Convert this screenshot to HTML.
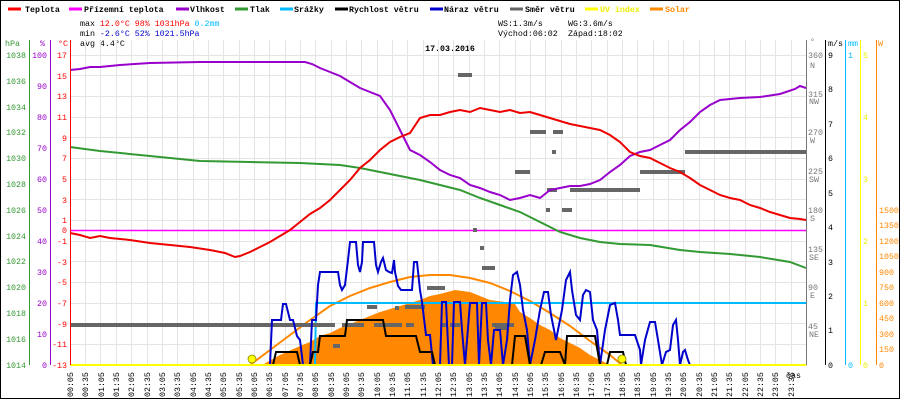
<!DOCTYPE html>
<html><head><meta charset="utf-8"><style>
html,body{margin:0;padding:0;background:#fff}
svg{display:block}
text{font-family:"Liberation Mono",monospace;font-size:8.3px}
</style></head><body>
<svg width="900" height="400" viewBox="0 0 900 400" xmlns="http://www.w3.org/2000/svg">
<rect x="0.5" y="0.5" width="899" height="398" fill="#fff" stroke="#000"/>
<!-- legend -->
<g stroke-width="3">
<line x1="8" y1="9" x2="21" y2="9" stroke="#f00"/>
<line x1="69" y1="9" x2="82" y2="9" stroke="#f0f"/>
<line x1="176" y1="9" x2="189" y2="9" stroke="#90c"/>
<line x1="235" y1="9" x2="248" y2="9" stroke="#393"/>
<line x1="280" y1="9" x2="293" y2="9" stroke="#0bf"/>
<line x1="335" y1="9" x2="348" y2="9" stroke="#000"/>
<line x1="430" y1="9" x2="443" y2="9" stroke="#00c"/>
<line x1="510" y1="9" x2="523" y2="9" stroke="#666"/>
<line x1="585" y1="9" x2="598" y2="9" stroke="#ff0"/>
<line x1="650" y1="9" x2="663" y2="9" stroke="#f80"/>
</g>
<g font-weight="bold" fill="#000">
<text x="25" y="12">Teplota</text><text x="84" y="12">Přízemní teplota</text>
<text x="190" y="12">Vlhkost</text><text x="250" y="12">Tlak</text><text x="294" y="12">Srážky</text>
<text x="349" y="12">Rychlost větru</text><text x="444" y="12">Náraz větru</text>
<text x="525" y="12">Směr větru</text><text x="600" y="12" fill="#ee0">UV index</text><text x="665" y="12" fill="#f80">Solar</text>
</g>
<text x="80" y="26">max <tspan fill="#f00">12.0°C</tspan>  <tspan fill="#f00">98%</tspan>  <tspan fill="#f00">1031hPa</tspan>     <tspan fill="#0bf">0.2mm</tspan></text>
<text x="80" y="36">min <tspan fill="#00c">-2.6°C</tspan>  <tspan fill="#00c">52%</tspan>  <tspan fill="#00c">1021.5hPa</tspan></text>
<text x="80" y="46">avg  4.4°C</text>
<text x="498" y="26">WS:1.3m/s</text><text x="568" y="26">WG:3.6m/s</text>
<text x="498" y="36">Východ:06:02</text><text x="568" y="36">Západ:18:02</text>
<text x="450" y="51" text-anchor="middle" font-weight="bold" font-size="12">17.03.2016</text>
<!-- grid -->
<g stroke="#e4e4e4" stroke-width="1">
<path d="M85.5 40V365M100.5 40V365M116.5 40V365M131.5 40V365M147.5 40V365M162.5 40V365M177.5 40V365M193.5 40V365M208.5 40V365M223.5 40V365M239.5 40V365M254.5 40V365M269.5 40V365M285.5 40V365M300.5 40V365M315.5 40V365M331.5 40V365M346.5 40V365M361.5 40V365M377.5 40V365M392.5 40V365M407.5 40V365M423.5 40V365M438.5 40V365M453.5 40V365M469.5 40V365M484.5 40V365M499.5 40V365M515.5 40V365M530.5 40V365M545.5 40V365M561.5 40V365M576.5 40V365M591.5 40V365M607.5 40V365M622.5 40V365M637.5 40V365M653.5 40V365M668.5 40V365M683.5 40V365M699.5 40V365M714.5 40V365M729.5 40V365M745.5 40V365M760.5 40V365M775.5 40V365M791.5 40V365"/>
<path d="M70 55.5H806M70 75.5H806M70 96.5H806M70 117.5H806M70 137.5H806M70 158.5H806M70 179.5H806M70 199.5H806M70 220.5H806M70 241.5H806M70 261.5H806M70 282.5H806M70 303.5H806M70 323.5H806M70 344.5H806"/>
</g>
<!-- solar -->
<polygon fill="#f80" points="262,365 280,355 300,346 310,342 320,336 330,333 340,328 360,320 380,312 400,306 420,300 430,296 440,294 455,290 470,292 480,296 490,300 505,302 515,304 520,312 530,318 540,325 550,330 560,338 570,343 580,348 590,355 600,360 610,365"/>
<polyline fill="none" stroke="#f80" stroke-width="2" points="250,365 270,350 290,335 310,320 330,306 350,296 370,288 390,282 410,277 430,275 450,275 470,278 490,283 510,291 530,301 550,313 570,326 590,341 610,355 622,365"/>
<!-- magenta, rain -->
<line x1="70" y1="230.5" x2="806" y2="230.5" stroke="#f0f" stroke-width="1.5"/>
<polyline fill="none" stroke="#0bf" stroke-width="2" points="315,365 316,303 806,303"/>
<!-- wind direction -->
<g fill="#666">
<rect x="70" y="323" width="265" height="4"/>
<rect x="342" y="323" width="22" height="4"/><rect x="374" y="323" width="28" height="4"/><rect x="406" y="323" width="8" height="4"/>
<rect x="442" y="323" width="5" height="4"/><rect x="450" y="323" width="10" height="4"/><rect x="492" y="323" width="22" height="4"/>
<rect x="333" y="344" width="7" height="4"/><rect x="367" y="305" width="10" height="4"/><rect x="395" y="306" width="4" height="4"/>
<rect x="405" y="305" width="20" height="4"/><rect x="427" y="286" width="18" height="4"/>
<rect x="458" y="73" width="14" height="4"/><rect x="473" y="228" width="4" height="4"/><rect x="480" y="246" width="4" height="4"/>
<rect x="482" y="266" width="13" height="4"/><rect x="495" y="326" width="13" height="4"/>
<rect x="515" y="170" width="15" height="4"/><rect x="530" y="130" width="16" height="4"/><rect x="553" y="130" width="10" height="4"/>
<rect x="552" y="150" width="4" height="4"/><rect x="547" y="188" width="10" height="4"/><rect x="546" y="208" width="4" height="4"/>
<rect x="562" y="208" width="10" height="4"/><rect x="570" y="188" width="70" height="4"/><rect x="640" y="170" width="45" height="4"/>
<rect x="685" y="150" width="121" height="4"/>
</g>
<!-- gust -->
<polyline fill="none" stroke="#00c" stroke-width="2" points="270,365 272,320 281,320 283,304 286,304 290,320 293,320 297,336 300,340 303,365 310,365 312,320 316,320 318,285 320,272 338,272 340,285 342,290 345,285 348,260 350,242 356,242 358,265 360,272 362,262 363,242 374,242 376,265 378,272 381,262 383,258 386,270 389,272 392,273 394,260 395,272 398,286 401,290 412,290 414,262 417,262 420,290 422,302 426,335 430,335 433,365 440,365 442,302 446,302 449,365 452,365 454,302 460,302 462,330 465,365 470,303 477,303 479,365 482,303 486,303 488,340 491,365 494,330 500,330 503,365 507,340 510,300 513,275 517,272 520,285 523,310 527,330 530,365 535,340 540,310 544,292 548,292 551,315 556,340 562,310 566,280 570,272 572,290 576,315 580,320 583,295 586,290 590,292 593,320 597,330 600,365 605,330 610,305 615,303 618,320 620,335 635,335 640,350 641,365 645,340 650,322 655,322 658,340 662,365 666,352 670,350 673,325 676,320 678,340 680,365 683,352 685,350 688,360 690,365"/>
<!-- wind speed -->
<polyline fill="none" stroke="#000" stroke-width="2" points="70,365 273,365 276,352 297,352 300,365 310,365 313,352 318,352 320,336 345,336 347,320 383,320 386,336 416,336 420,352 432,352 435,365 512,365 515,336 525,336 530,365 541,365 545,352 560,352 565,365 567,336 595,336 600,365 607,365 610,352 623,352 626,365 806,365"/>
<!-- temperature, humidity, pressure -->
<polyline fill="none" stroke="#393" stroke-width="2" points="70,147 100,151 150,156 200,161 250,162 300,163 340,165 360,168 380,172 400,176 420,180 440,185 460,190 480,198 500,205 520,212 540,222 560,232 580,238 600,242 620,244 650,245 680,250 700,252 730,254 760,257 790,262 806,268"/>
<polyline fill="none" stroke="#90c" stroke-width="2" points="70,70 80,69 90,67 100,67 120,65 150,63 200,62 250,62 305,62 312,64 320,68 330,72 340,76 350,82 360,88 370,92 380,96 390,110 400,130 405,140 410,150 420,155 430,162 440,170 450,175 460,178 470,185 480,188 490,192 500,195 510,200 520,198 530,195 540,198 550,190 560,188 570,186 580,186 590,184 600,180 610,172 620,165 630,156 640,152 650,150 660,145 670,140 680,130 690,122 700,112 710,105 720,100 740,98 760,97 780,94 795,89 800,86 806,88"/>
<polyline fill="none" stroke="#e00" stroke-width="2" points="70,233 80,235 90,238 100,236 110,238 130,240 150,243 170,245 190,247 210,250 225,253 235,257 240,256 250,252 260,247 270,242 280,236 290,230 300,222 310,214 320,208 330,200 340,190 350,180 360,168 370,160 380,150 390,142 400,137 410,133 420,118 430,115 440,115 450,112 460,110 470,112 480,108 490,110 500,112 510,110 520,113 530,112 540,115 550,118 560,121 570,124 580,126 590,128 600,130 610,135 620,142 630,152 640,156 650,158 660,163 670,168 680,172 690,178 700,185 710,190 720,195 730,198 740,200 750,205 760,208 770,212 780,215 790,218 800,219 806,220"/>
<line x1="70" y1="365" x2="806" y2="365" stroke="#ff0" stroke-width="2"/>
<circle cx="252" cy="359" r="4" fill="#ff0" stroke="#880" stroke-width="0.8"/>
<circle cx="622" cy="359" r="4" fill="#ff0" stroke="#880" stroke-width="0.8"/>
<!-- left axes -->
<line x1="29.5" y1="40" x2="29.5" y2="365" stroke="#393"/>
<line x1="50.5" y1="40" x2="50.5" y2="365" stroke="#90c"/>
<line x1="70.5" y1="40" x2="70.5" y2="365" stroke="#f00"/>
<text x="5" y="46" fill="#393">hPa</text><text x="40" y="46" fill="#90c">%</text><text x="58" y="46" fill="#f00">°C</text>
<g fill="#393" text-anchor="end">
<text x="26" y="58">1038</text><text x="26" y="84">1036</text><text x="26" y="110">1034</text><text x="26" y="135">1032</text><text x="26" y="161">1030</text><text x="26" y="187">1028</text><text x="26" y="213">1026</text><text x="26" y="239">1024</text><text x="26" y="264">1022</text><text x="26" y="290">1020</text><text x="26" y="316">1018</text><text x="26" y="342">1016</text><text x="26" y="368">1014</text>
</g>
<g fill="#90c" text-anchor="end">
<text x="47" y="58">100</text><text x="47" y="89">90</text><text x="47" y="120">80</text><text x="47" y="151">70</text><text x="47" y="182">60</text><text x="47" y="213">50</text><text x="47" y="244">40</text><text x="47" y="275">30</text><text x="47" y="306">20</text><text x="47" y="337">10</text><text x="47" y="368">0</text>
</g>
<g fill="#f00" text-anchor="end">
<text x="67" y="58">17</text><text x="67" y="79">15</text><text x="67" y="99">13</text><text x="67" y="120">11</text><text x="67" y="141">9</text><text x="67" y="161">7</text><text x="67" y="182">5</text><text x="67" y="203">3</text><text x="67" y="223">1</text><text x="67" y="233">0</text><text x="67" y="244">-1</text><text x="67" y="265">-3</text><text x="67" y="285">-5</text><text x="67" y="306">-7</text><text x="67" y="327">-9</text><text x="67" y="347">-11</text><text x="67" y="368">-13</text>
</g>
<!-- right axes -->
<line x1="806.5" y1="40" x2="806.5" y2="365" stroke="#777"/>
<line x1="825.5" y1="40" x2="825.5" y2="365" stroke="#000"/>
<line x1="845.5" y1="40" x2="845.5" y2="365" stroke="#0bf"/>
<line x1="860.5" y1="40" x2="860.5" y2="365" stroke="#ff0"/>
<line x1="876.5" y1="40" x2="876.5" y2="365" stroke="#f80"/>
<text x="810" y="44" fill="#777">°</text><text x="828" y="46">m/s</text><text x="848" y="46" fill="#0bf">mm</text><text x="878" y="46" fill="#f80">W</text>
<g fill="#777">
<text x="808" y="58">360</text><text x="810" y="68">N</text><text x="808" y="97">315</text><text x="809" y="104">NW</text>
<text x="808" y="135">270</text><text x="810" y="143">W</text><text x="808" y="174">225</text><text x="809" y="182">SW</text>
<text x="808" y="213">180</text><text x="810" y="221">S</text><text x="808" y="252">135</text><text x="809" y="260">SE</text>
<text x="808" y="290">90</text><text x="810" y="298">E</text><text x="808" y="329">45</text><text x="809" y="337">NE</text>
</g>
<g fill="#000">
<text x="828" y="58">9</text><text x="828" y="92">8</text><text x="828" y="127">7</text><text x="828" y="161">6</text><text x="828" y="196">5</text><text x="828" y="230">4</text><text x="828" y="265">3</text><text x="828" y="299">2</text><text x="828" y="333">1</text><text x="828" y="368">0</text>
</g>
<text x="848" y="58" fill="#0bf">1</text><text x="848" y="368" fill="#0bf">0</text>
<g fill="#ee0">
<text x="863" y="58">5</text><text x="863" y="120">4</text><text x="863" y="182">3</text><text x="863" y="244">2</text><text x="863" y="306">1</text><text x="863" y="368">0</text>
</g>
<g fill="#f80">
<text x="879" y="213">1500</text><text x="879" y="228">1350</text><text x="879" y="244">1200</text><text x="879" y="259">1050</text><text x="879" y="275">900</text><text x="879" y="290">750</text><text x="879" y="306">600</text><text x="879" y="321">450</text><text x="879" y="337">300</text><text x="879" y="352">150</text><text x="879" y="368">0</text>
</g>
<text x="786" y="378">čas</text>
<!-- time labels -->
<g fill="#000">
<text transform="translate(73,397) rotate(-90)">00:05</text><text transform="translate(88,397) rotate(-90)">00:35</text><text transform="translate(104,397) rotate(-90)">01:05</text><text transform="translate(119,397) rotate(-90)">01:35</text><text transform="translate(134,397) rotate(-90)">02:05</text><text transform="translate(150,397) rotate(-90)">02:35</text><text transform="translate(165,397) rotate(-90)">03:05</text><text transform="translate(180,397) rotate(-90)">03:35</text><text transform="translate(196,397) rotate(-90)">04:05</text><text transform="translate(211,397) rotate(-90)">04:35</text><text transform="translate(226,397) rotate(-90)">05:05</text><text transform="translate(242,397) rotate(-90)">05:35</text><text transform="translate(257,397) rotate(-90)">06:05</text><text transform="translate(272,397) rotate(-90)">06:35</text><text transform="translate(288,397) rotate(-90)">07:05</text><text transform="translate(303,397) rotate(-90)">07:35</text><text transform="translate(318,397) rotate(-90)">08:05</text><text transform="translate(334,397) rotate(-90)">08:35</text><text transform="translate(349,397) rotate(-90)">09:05</text><text transform="translate(364,397) rotate(-90)">09:35</text><text transform="translate(380,397) rotate(-90)">10:05</text><text transform="translate(395,397) rotate(-90)">10:35</text><text transform="translate(410,397) rotate(-90)">11:05</text><text transform="translate(426,397) rotate(-90)">11:35</text><text transform="translate(441,397) rotate(-90)">12:05</text><text transform="translate(456,397) rotate(-90)">12:35</text><text transform="translate(472,397) rotate(-90)">13:05</text><text transform="translate(487,397) rotate(-90)">13:35</text><text transform="translate(502,397) rotate(-90)">14:05</text><text transform="translate(518,397) rotate(-90)">14:35</text><text transform="translate(533,397) rotate(-90)">15:05</text><text transform="translate(548,397) rotate(-90)">15:35</text><text transform="translate(564,397) rotate(-90)">16:05</text><text transform="translate(579,397) rotate(-90)">16:35</text><text transform="translate(594,397) rotate(-90)">17:05</text><text transform="translate(610,397) rotate(-90)">17:35</text><text transform="translate(625,397) rotate(-90)">18:05</text><text transform="translate(640,397) rotate(-90)">18:35</text><text transform="translate(656,397) rotate(-90)">19:05</text><text transform="translate(671,397) rotate(-90)">19:35</text><text transform="translate(686,397) rotate(-90)">20:05</text><text transform="translate(702,397) rotate(-90)">20:35</text><text transform="translate(717,397) rotate(-90)">21:05</text><text transform="translate(732,397) rotate(-90)">21:35</text><text transform="translate(748,397) rotate(-90)">22:05</text><text transform="translate(763,397) rotate(-90)">22:35</text><text transform="translate(778,397) rotate(-90)">23:05</text><text transform="translate(794,397) rotate(-90)">23:35</text>
</g>
</svg>
</body></html>
